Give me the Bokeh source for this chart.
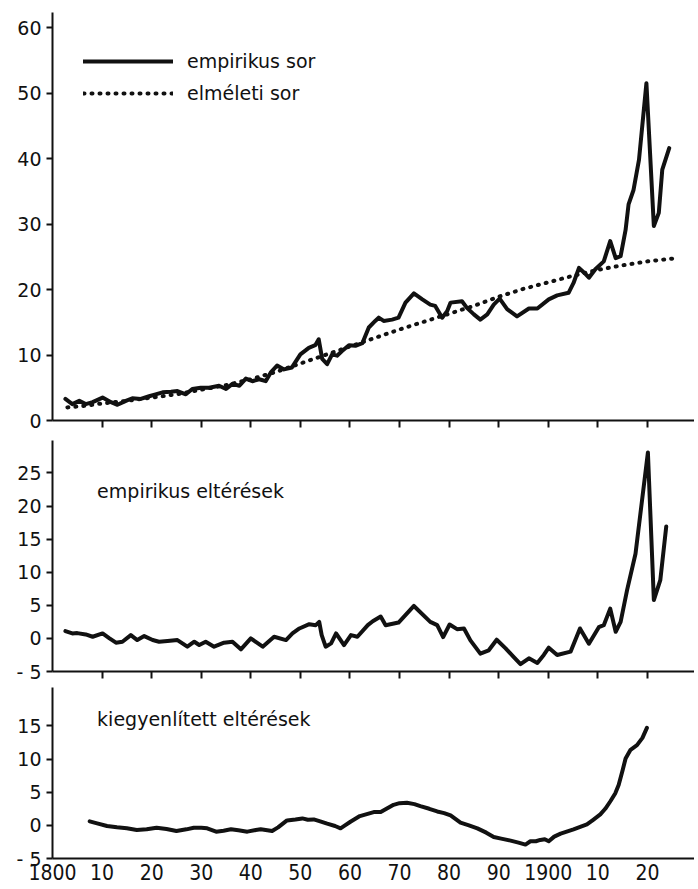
from bokeh.plotting import figure
from bokeh.models import Range1d, FixedTicker, Legend, LegendItem, Label, LinearAxis
from bokeh.layouts import column
from bokeh.embed import file_html
from bokeh.resources import INLINE

# ---------------- data ----------------
emp_years = [1802.6, 1804.0, 1805.4, 1806.7, 1808.1, 1810.1, 1811.8, 1813.1, 1814.8, 1816.1,
             1817.8, 1819.5, 1820.8, 1822.2, 1823.9, 1825.2, 1826.9, 1828.2, 1829.9, 1831.6,
             1833.6, 1835.0, 1836.3, 1837.7, 1839.0, 1840.3, 1841.7, 1843.0, 1844.0, 1845.3,
             1846.7, 1848.3, 1850.0, 1851.7, 1853.0, 1853.7, 1854.4, 1855.4, 1856.4, 1857.4,
             1858.4, 1859.8, 1861.1, 1862.5, 1863.8, 1865.1, 1865.8, 1866.8, 1868.5, 1869.8,
             1871.2, 1872.9, 1874.6, 1876.2, 1877.2, 1878.6, 1879.6, 1880.3, 1882.6, 1883.6,
             1885.0, 1886.3, 1887.7, 1889.0, 1890.2, 1891.7, 1893.7, 1896.1, 1897.8, 1900.1,
             1901.8, 1904.1, 1905.1, 1906.2, 1907.2, 1908.2, 1909.5, 1911.2, 1912.5, 1913.6,
             1914.6, 1915.6, 1916.2, 1917.2, 1918.3, 1919.8, 1921.3, 1922.3, 1923.0, 1924.4]
emp_values = [3.3, 2.5, 3.0, 2.5, 2.8, 3.5, 2.8, 2.4, 3.0, 3.4,
              3.3, 3.7, 4.0, 4.3, 4.4, 4.5, 4.0, 4.8, 5.0, 5.0,
              5.3, 4.8, 5.6, 5.3, 6.4, 6.0, 6.3, 6.0, 7.3, 8.4,
              7.8, 8.1, 10.1, 11.1, 11.5, 12.4, 9.4, 8.6, 10.1, 9.9,
              10.6, 11.5, 11.4, 11.8, 14.2, 15.2, 15.7, 15.2, 15.4, 15.7,
              18.0, 19.4, 18.5, 17.7, 17.5, 15.7, 16.7, 18.0, 18.2, 17.2,
              16.2, 15.4, 16.2, 17.7, 18.6, 17.0, 15.9, 17.1, 17.1, 18.5,
              19.1, 19.5, 21.0, 23.3, 22.6, 21.8, 23.1, 24.3, 27.4, 24.8,
              25.1, 29.1, 33.0, 35.2, 39.8, 51.5, 29.7, 31.7, 38.3, 41.6]

theo_years = [1803, 1806, 1810, 1815, 1820, 1825, 1830, 1835, 1840, 1845, 1850, 1855, 1860,
              1865, 1870, 1875, 1880, 1885, 1890, 1895, 1900, 1905, 1910, 1915, 1920, 1926]
theo_values = [2.0, 2.2, 2.6, 3.0, 3.5, 4.0, 4.7, 5.4, 6.3, 7.4, 8.7, 10.0, 11.3,
               12.6, 13.9, 15.1, 16.3, 17.5, 18.9, 20.1, 21.1, 22.1, 23.0, 23.7, 24.3, 24.8]

dev_years = [1802.6, 1804.0, 1805.0, 1806.7, 1808.1, 1810.1, 1811.5, 1812.8, 1814.1, 1815.8,
             1817.1, 1818.5, 1820.2, 1821.5, 1823.2, 1825.2, 1827.2, 1828.6, 1829.6, 1830.9,
             1832.6, 1834.6, 1836.3, 1838.0, 1840.0, 1842.4, 1844.7, 1847.1, 1848.4, 1849.8,
             1851.8, 1853.1, 1853.8, 1854.3, 1855.1, 1856.2, 1857.2, 1858.8, 1860.2, 1861.5,
             1863.6, 1864.6, 1866.2, 1867.2, 1869.8, 1872.9, 1876.2, 1877.6, 1878.8, 1880.1,
             1881.6, 1883.0, 1884.3, 1886.3, 1888.0, 1889.6, 1891.4, 1893.0, 1894.4, 1896.1,
             1897.8, 1899.1, 1900.1, 1901.8, 1904.5, 1906.4, 1908.2, 1910.2, 1911.2, 1912.5,
             1913.6, 1914.6, 1915.9, 1917.6, 1920.1, 1921.3, 1922.6, 1923.8]
dev_values = [1.1, 0.75, 0.8, 0.6, 0.25, 0.75, 0.0, -0.65, -0.5, 0.5,
              -0.25, 0.35, -0.25, -0.5, -0.4, -0.25, -1.25, -0.5, -1.0, -0.5,
              -1.25, -0.65, -0.5, -1.65, 0.0, -1.25, 0.25, -0.25, 0.75, 1.5,
              2.15, 2.0, 2.5, 0.5, -1.25, -0.75, 0.75, -1.0, 0.5, 0.25,
              2.0, 2.6, 3.3, 2.0, 2.4, 4.9, 2.5, 2.0, 0.2, 2.1,
              1.4, 1.5, -0.3, -2.3, -1.8, -0.2, -1.5, -2.8, -3.9, -3.0,
              -3.7, -2.5, -1.4, -2.5, -2.0, 1.5, -0.8, 1.7, 2.0, 4.5,
              1.0, 2.5, 7.3, 12.8, 28.1, 5.8, 8.8, 16.9]

smooth_years = [1807.5, 1809.0, 1811.0, 1813.0, 1815.0, 1817.0, 1819.0, 1821.0, 1823.0, 1825.0,
                1827.0, 1828.5, 1830.0, 1831.2, 1833.0, 1834.5, 1836.0, 1837.5, 1839.3, 1841.0,
                1842.0, 1843.0, 1844.3, 1845.5, 1847.3, 1849.0, 1850.4, 1851.5, 1852.7, 1854.0,
                1855.4, 1857.0, 1858.1, 1859.0, 1860.1, 1862.0, 1864.8, 1866.2, 1868.8, 1870.0,
                1871.5, 1873.0, 1874.2, 1876.0, 1877.6, 1879.0, 1880.3, 1882.3, 1884.0, 1885.7,
                1887.5, 1889.0, 1890.5, 1892.4, 1894.0, 1895.4, 1896.4, 1897.5, 1898.4, 1899.3,
                1900.1, 1901.2, 1902.5, 1905.1, 1907.8, 1909.0, 1910.5, 1911.5, 1912.5, 1913.5,
                1914.2, 1915.0, 1915.6, 1916.6, 1917.9, 1919.0, 1919.9]
smooth_values = [0.6, 0.3, -0.1, -0.3, -0.45, -0.7, -0.6, -0.35, -0.55, -0.85,
                 -0.6, -0.35, -0.35, -0.45, -0.95, -0.8, -0.6, -0.75, -0.95, -0.7,
                 -0.6, -0.7, -0.85, -0.3, 0.75, 0.9, 1.05, 0.85, 0.9, 0.6,
                 0.25, -0.1, -0.45, 0.0, 0.55, 1.4, 2.0, 2.0, 3.1, 3.35,
                 3.4, 3.2, 2.9, 2.5, 2.1, 1.85, 1.5, 0.4, 0.0, -0.45,
                 -1.1, -1.75, -2.0, -2.3, -2.6, -2.9, -2.4, -2.4, -2.2, -2.1,
                 -2.4, -1.7, -1.25, -0.6, 0.15, 0.8, 1.65, 2.5, 3.6, 4.8,
                 6.1, 8.3, 10.1, 11.4, 12.1, 13.2, 14.7]

x_ticks = [1800, 1810, 1820, 1830, 1840, 1850, 1860, 1870, 1880, 1890, 1900, 1910, 1920]
x_tick_labels = ["1800", "10", "20", "30", "40", "50", "60", "70", "80", "90", "1900", "10", "20"]
top_y_ticks = [0, 10, 20, 30, 40, 50, 60]
mid_y_ticks = [-5, 0, 5, 10, 15, 20, 25]
bot_y_ticks = [-5, 0, 5, 10, 15]

legend_labels = ["empirikus sor", "elméleti sor"]
mid_title = "empirikus eltérések"
bot_title = "kiegyenlített eltérések"

# ---------------- styling ----------------
FONT = "DejaVu Sans"
FS = "19px"
XFONT = "DejaVu Sans Condensed"
XFS = "21px"
INK = "#111111"
W = 694
x_range = Range1d(1800, 1929.5)


def make_fig(height, y0, y1, yticks, top_border, bottom_border, x_labels):
    p = figure(width=W, height=height, x_range=x_range, y_range=Range1d(y0, y1),
               output_backend="svg", toolbar_location=None,
               x_axis_location=None, y_axis_location=None,
               min_border_left=52, min_border_right=0,
               min_border_top=top_border, min_border_bottom=bottom_border)
    p.outline_line_color = None
    p.background_fill_color = "white"
    p.border_fill_color = "white"
    for g in p.grid:
        g.visible = False

    ya = LinearAxis(ticker=FixedTicker(ticks=yticks),
                    major_label_overrides={t: ("- 5" if t == -5 else str(t)) for t in yticks},
                    axis_line_width=2, axis_line_color=INK,
                    major_tick_line_width=2, major_tick_line_color=INK,
                    major_tick_in=0, major_tick_out=6,
                    minor_tick_in=0, minor_tick_out=0,
                    major_label_standoff=5, major_label_text_font=FONT,
                    major_label_text_font_size=FS, major_label_text_color=INK)
    p.add_layout(ya, "left")

    if x_labels:
        xa = LinearAxis(ticker=FixedTicker(ticks=x_ticks),
                        major_label_overrides=dict(zip(x_ticks, x_tick_labels)),
                        axis_line_width=2, axis_line_color=INK,
                        major_tick_in=0, major_tick_out=0,
                        minor_tick_in=0, minor_tick_out=0,
                        major_label_standoff=5, major_label_text_font=XFONT,
                        major_label_text_font_size=XFS, major_label_text_color=INK)
    else:
        # tick marks below the axis line, no tick labels
        xa = LinearAxis(ticker=FixedTicker(ticks=x_ticks[1:]),
                        major_label_overrides={t: " " for t in x_ticks[1:]},
                        axis_line_width=2, axis_line_color=INK,
                        major_tick_line_width=2, major_tick_line_color=INK,
                        major_tick_in=0, major_tick_out=7,
                        minor_tick_in=0, minor_tick_out=0,
                        major_label_standoff=0, major_label_text_font=XFONT,
                        major_label_text_font_size="2px", major_label_text_color=INK)
    p.add_layout(xa, "below")
    return p


# top panel
p1 = make_fig(432, 0, 62.3, top_y_ticks, 12, 11, False)
r_emp = p1.line(emp_years, emp_values, line_width=4, line_color=INK,
                line_join="round", line_cap="round")
r_theo = p1.line(theo_years, theo_values, line_width=4, line_color=INK,
                 line_dash="1 7", line_cap="round")
legend = Legend(items=[LegendItem(label=legend_labels[0], renderers=[r_emp]),
                       LegendItem(label=legend_labels[1], renderers=[r_theo])],
                location=(31, 316), padding=0, margin=0, spacing=10,
                glyph_width=90, glyph_height=20, label_standoff=14,
                label_text_font=FONT, label_text_font_size=FS, label_text_color=INK,
                border_line_alpha=0, background_fill_alpha=0)
p1.add_layout(legend)

# middle panel
p2 = make_fig(251, -5, 29.9, mid_y_ticks, 8, 11, False)
p2.line(dev_years, dev_values, line_width=4, line_color=INK,
        line_join="round", line_cap="round")
p2.add_layout(Label(x=1809, y=22.2, text=mid_title, text_font=FONT,
                    text_font_size=FS, text_color=INK, text_baseline="middle"))

# bottom panel
p3 = make_fig(205, -5, 20.8, bot_y_ticks, 4, 30, True)
p3.line(smooth_years, smooth_values, line_width=4, line_color=INK,
        line_join="round", line_cap="round")
p3.add_layout(Label(x=1809, y=16.0, text=bot_title, text_font=FONT,
                    text_font_size=FS, text_color=INK, text_baseline="middle"))

layout = column(p1, p2, p3, spacing=0)
open("out.html", "w").write(file_html(layout, INLINE))
